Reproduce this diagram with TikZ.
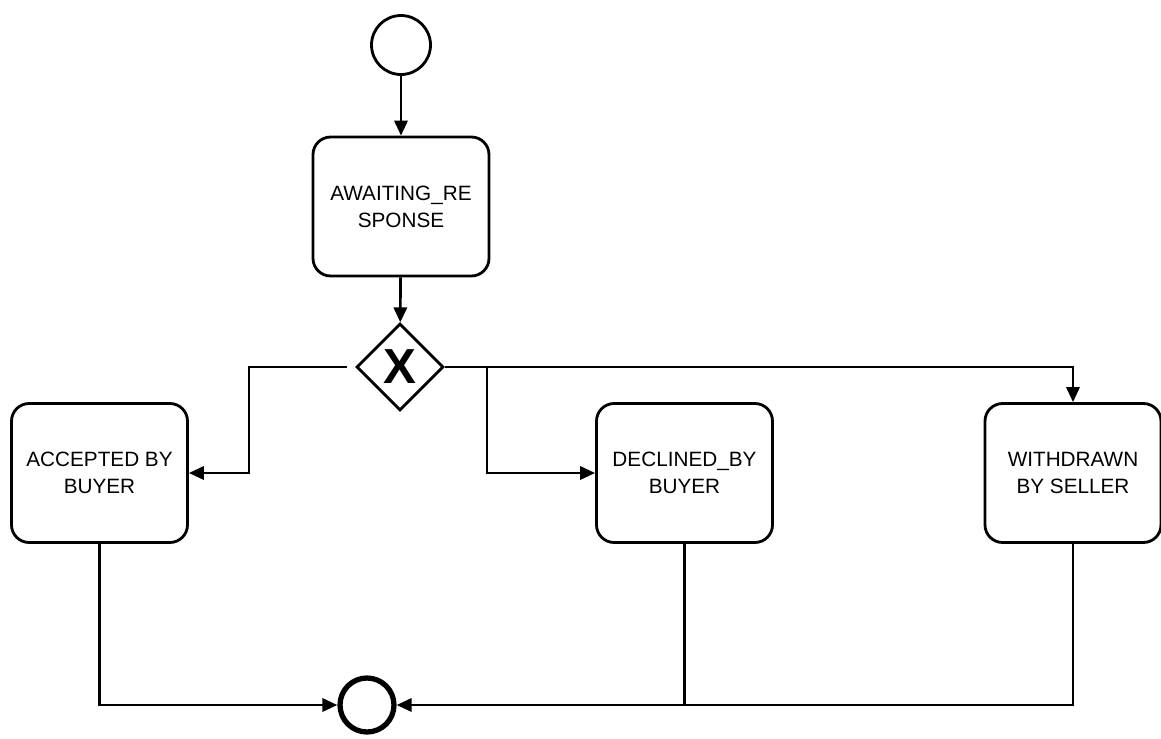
\documentclass[tikz,border=0pt]{standalone}
\usepackage{fontspec}
\setmainfont{Liberation Sans}
\usepackage{tikz}
\usetikzlibrary{shapes.geometric, arrows.meta, positioning, calc}

\begin{document}
\begin{tikzpicture}[x=0.02cm, y=-0.02cm,
  state/.style={draw, line width=1.6pt, rounded corners=10pt, minimum width=3.52cm, minimum height=2.78cm, align=center, inner sep=2pt, font=\fontsize{11.8}{15.4}\selectfont},
  flow/.style={line width=1.5pt, -{Triangle[length=8.5pt, width=7.5pt]}},
  plain/.style={line width=1.5pt}]
  \useasboundingbox (0,0) rectangle (1161,738);

  % Start and end events
  \node[circle, draw, line width=1.6pt, minimum size=1.18cm, inner sep=0pt] (start) at (401,45) {};
  \node[circle, draw, line width=3pt, minimum size=1.08cm, inner sep=0pt] (end) at (367,705) {};

  % States
  \node[state] (await) at (401,206.5) {AWAITING\_RE\\SPONSE};
  \node[state] (accepted) at (99.5,473) {ACCEPTED BY\\BUYER};
  \node[state] (declined) at (684.5,473) {DECLINED\_BY\\BUYER};
  \node[state] (withdrawn) at (1073,473) {WITHDRAWN\\BY SELLER};

  % Exclusive gateway
  \node[diamond, draw, line width=1.6pt, minimum size=1.74cm, inner sep=0pt, font=\fontsize{28}{28}\selectfont\bfseries] (gate) at (400,367) {X};
  \coordinate (split) at (487,367);

  % Flows
  \draw[flow] (start) -- (await);
  \draw[flow] (await) -- (gate);
  \draw[flow, shorten <=4.5pt] (gate.west) -- (249,367) |- (accepted.east);
  \draw[flow] (gate.east) -| (withdrawn.north);
  \draw[flow] (split) |- (declined.west);
  \draw[flow] (accepted.south) |- (end.west);
  \draw[flow] (withdrawn.south) |- (end.east);
  \draw[plain] (declined.south) -- (declined.south |- end);
\end{tikzpicture}
\end{document}
